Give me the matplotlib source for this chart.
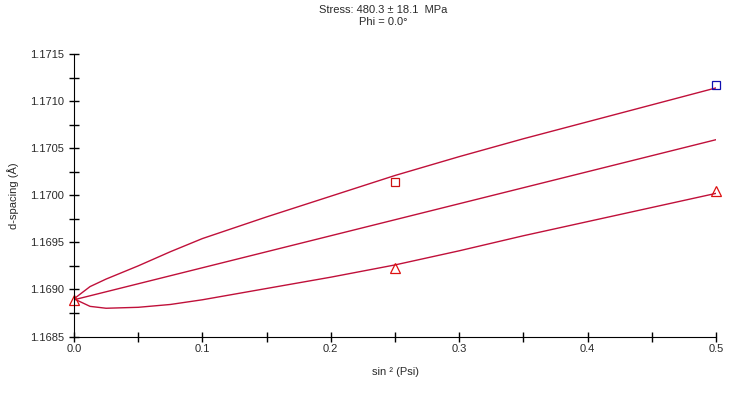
import matplotlib.pyplot as plt

plt.rcParams['font.family'] = ['Liberation Sans', 'DejaVu Sans']

# =========================
# Data
# =========================

# fitted curves, x = sin^2(psi)
curve_x = [0.0, 0.0125, 0.025, 0.05, 0.075, 0.10, 0.15, 0.20, 0.25, 0.30, 0.35, 0.40, 0.45, 0.50]
upper_d = [1.16890, 1.16903, 1.16911, 1.16925, 1.16940, 1.16954, 1.16977, 1.16999, 1.17021,
           1.17041, 1.17060, 1.17078, 1.17096, 1.17114]
lower_d = [1.16890, 1.16882, 1.16880, 1.16881, 1.16884, 1.16889, 1.16901, 1.16913, 1.16926,
           1.16941, 1.16957, 1.16972, 1.16987, 1.17002]

mean_x = [0.0, 0.25, 0.5]
mean_d = [1.16889, 1.16974, 1.17059]

# measured points
tri_x = [0.0, 0.25, 0.5]
tri_d = [1.16889, 1.16923, 1.17005]
sq_red_x = [0.25]
sq_red_d = [1.17014]
sq_blue_x = [0.5]
sq_blue_d = [1.17117]

x_ticks = [0.0, 0.1, 0.2, 0.3, 0.4, 0.5]
y_ticks = [1.1685, 1.1690, 1.1695, 1.1700, 1.1705, 1.1710, 1.1715]

# =========================
# Plot
# =========================

LINE_COLOR = "#c0103a"
TEXT_COLOR = "#2a2a2a"

fig = plt.figure(figsize=(7.35, 4.0), dpi=100)
ax = fig.add_axes([74 / 735, 1 - 336.5 / 400, 642 / 735, 282.5 / 400])

ax.plot(curve_x, upper_d, color=LINE_COLOR, lw=1.0)
ax.plot(curve_x, lower_d, color=LINE_COLOR, lw=1.0)
ax.plot(mean_x, mean_d, color=LINE_COLOR, lw=1.0)

ax.plot(tri_x, tri_d, linestyle="none", marker="^", ms=7, mfc="none",
        mec="#dd1111", mew=0.9, clip_on=False)
ax.plot(sq_red_x, sq_red_d, linestyle="none", marker="s", ms=6, mfc="none",
        mec="#cc1111", mew=0.9, clip_on=False)
ax.plot(sq_blue_x, sq_blue_d, linestyle="none", marker="s", ms=6, mfc="none",
        mec="#1010b0", mew=0.9, clip_on=False)

ax.set_xlim(0, 0.5)
ax.set_ylim(1.1685, 1.1715)
ax.set_xticks(x_ticks)
ax.set_xticklabels([f"{v:.1f}" for v in x_ticks])
ax.set_xticks([0.05, 0.15, 0.25, 0.35, 0.45], minor=True)
ax.set_yticks(y_ticks)
ax.set_yticklabels([f"{v:.4f}" for v in y_ticks])
ax.set_yticks([1.16875, 1.16925, 1.16975, 1.17025, 1.17075, 1.17125], minor=True)

ax.spines["top"].set_visible(False)
ax.spines["right"].set_visible(False)
ax.tick_params(which="both", direction="inout", length=7, width=1.0,
               labelsize=8, labelcolor=TEXT_COLOR)
ax.tick_params(axis="x", pad=2)

ax.set_xlabel("sin ² (Psi)", fontsize=8, color=TEXT_COLOR, labelpad=9)
ax.set_ylabel("d-spacing (Å)", fontsize=8, color=TEXT_COLOR, labelpad=8)

fig.text(383 / 735, 1 - 10 / 400, "Stress: 480.3 ± 18.1  MPa", ha="center",
         va="center", fontsize=8, color=TEXT_COLOR)
fig.text(383 / 735, 1 - 22 / 400, "Phi = 0.0°", ha="center", va="center",
         fontsize=8, color=TEXT_COLOR)

fig.savefig("out.png", dpi=100)
